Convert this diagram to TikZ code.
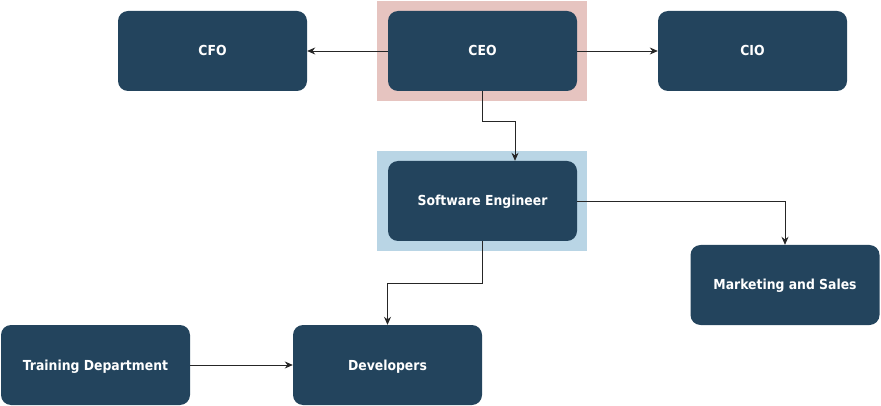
\documentclass[tikz,border=0pt]{standalone}
\usepackage{fontspec}
\setmainfont{DejaVu Sans Condensed}
\usetikzlibrary{arrows.meta}
\definecolor{boxc}{HTML}{23445D}
\definecolor{pinkc}{HTML}{E6C4C0}
\definecolor{bluec}{HTML}{B9D5E5}
\tikzset{
  orgbox/.style={fill=boxc, rounded corners=10pt, minimum width=189pt, minimum height=80pt, inner sep=0pt, text=white, font=\fontsize{13.8}{15}\selectfont\bfseries, anchor=center, text depth=0pt, text height=10pt},
  conn/.style={draw=black!85, line width=0.8pt, -{Stealth[length=8pt,width=7pt]}},
  hl/.style={minimum width=210pt, minimum height=100pt, inner sep=0pt},
}
\begin{document}
\begin{tikzpicture}[x=1pt,y=-1pt]
\useasboundingbox (0,0) rectangle (881,406);
\node[hl, fill=pinkc] (ceoh) at (482,51) {};
\node[hl, fill=bluec] (seh) at (482,201) {};
\node[orgbox] (cfo) at (212.5,51) {CFO};
\node[orgbox] (ceo) at (482.5,51) {CEO};
\node[orgbox] (cio) at (752.5,51) {CIO};
\node[orgbox] (se) at (482.5,201) {Software Engineer};
\node[orgbox] (mkt) at (785,285) {Marketing and Sales};
\node[orgbox] (trn) at (95.5,365) {Training Department};
\node[orgbox] (dev) at (387.5,365) {Developers};
\coordinate (c1) at (482.5,121);
\coordinate (c2) at (515,121);
\coordinate (c3) at (482.5,283);
\coordinate (c4) at (387.5,283);
\draw[conn] (ceo.west) -- (cfo.east);
\draw[conn] (ceo.east) -- (cio.west);
\draw[conn] (ceo.south) -- (c1) -- (c2) -- (c2 |- se.north);
\draw[conn] (se.east) -| (mkt.north);
\draw[conn] (se.south) -- (c3) -- (c4) -- (dev.north);
\draw[conn] (trn.east) -- (dev.west);
\end{tikzpicture}
\end{document}
